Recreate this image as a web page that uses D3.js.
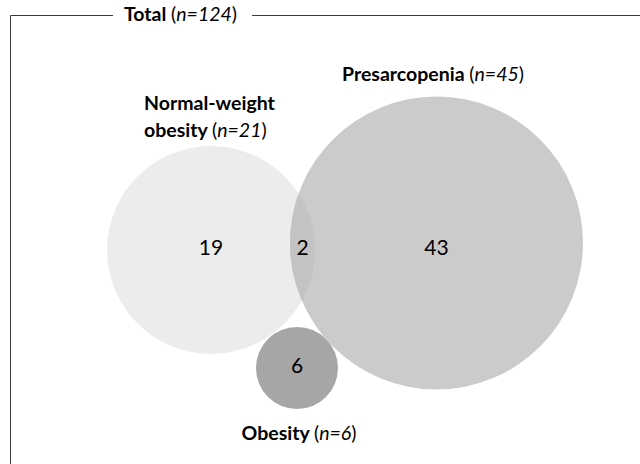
<!DOCTYPE html>
<html><head><meta charset="utf-8">
<script src="https://cdn.jsdelivr.net/npm/d3@7/dist/d3.min.js"></script>
<style>html,body{margin:0;padding:0;background:#fff}</style>
</head><body>
<svg id="chart" width="640" height="464"></svg>
<script>
// ---- data ----
const totalN = 124;
const setNames = ["Normal-weight obesity", "Presarcopenia", "Obesity"];
const setSizes = [21, 45, 6];
const regionLabels = ["Normal-weight obesity only", "Normal-weight obesity & Presarcopenia", "Presarcopenia only", "Obesity only"];
const regionCounts = [19, 2, 43, 6];
// layout of circles in abstract venn units
const circleCX = [2.11, 4.365, 2.97];
const circleCY = [2.50, 2.43, 3.68];
const circleR  = [1.04, 1.465, 0.41];
const fills = ["#ececec", "#cbcbcb", "#a6a6a6"];

const svg = d3.select("#chart");
const font = "Lato, 'Open Sans', sans-serif";
const fs = 19.5;
const x = d3.scaleLinear().domain([0, 6.4]).range([0, 640]);
const y = d3.scaleLinear().domain([0, 4.64]).range([0, 464]);
const rs = d3.scaleLinear().domain([0, 1]).range([0, 100]);

const circles = setNames.map((n, i) => ({name: n, n: setSizes[i], cx: x(circleCX[i]), cy: y(circleCY[i]), r: rs(circleR[i]), fill: fills[i]}));

// frame
const frameLeft = 10.5, frameTop = 15.5;
svg.append("path")
  .attr("d", `M${frameLeft},464 L${frameLeft},${frameTop} L113,${frameTop} M252,${frameTop} L640,${frameTop}`)
  .attr("fill", "none").attr("stroke", "#3a3a3a").attr("stroke-width", 1);

function label(g, xx, yy, bold, italic, anchor) {
  const t = g.append("text").attr("x", xx).attr("y", yy).attr("text-anchor", anchor || "middle")
    .attr("font-family", font).attr("font-size", fs).attr("fill", "#000");
  t.append("tspan").attr("font-weight", "bold").text(bold + " ");
  t.append("tspan").text("(");
  t.append("tspan").attr("font-style", "italic").text(italic);
  t.append("tspan").text(")");
  return t;
}
label(svg, 180.5, 20.5, "Total", "n=" + totalN);

// circles
const g = svg.append("g");
circles.forEach(c => {
  g.append("circle").attr("cx", c.cx).attr("cy", c.cy).attr("r", c.r).attr("fill", c.fill);
});
// overlap lens of first two sets
const defs = svg.append("defs");
defs.append("clipPath").attr("id", "clipA").append("circle")
  .attr("cx", circles[0].cx).attr("cy", circles[0].cy).attr("r", circles[0].r);
g.append("circle").attr("clip-path", "url(#clipA)")
  .attr("cx", circles[1].cx).attr("cy", circles[1].cy).attr("r", circles[1].r)
  .attr("fill", "#c3c3c3");

// region counts
const regionPos = [
  [circles[0].cx, circles[0].cy],
  [(circles[1].cx - circles[1].r + circles[0].cx + circles[0].r) / 2, circles[0].cy],
  [circles[1].cx, circles[0].cy],
  [circles[2].cx, circles[2].cy]
];
regionCounts.forEach((v, i) => {
  svg.append("text").attr("x", regionPos[i][0]).attr("y", regionPos[i][1] - 3.5)
    .attr("text-anchor", "middle").attr("dominant-baseline", "central")
    .attr("font-family", font).attr("font-size", 21).attr("fill", "#000").text(v);
});

// set labels
label(svg, 433, 81, "Presarcopenia", "n=" + setSizes[1]);
svg.append("text").attr("x", 144).attr("y", 110).attr("font-family", font)
  .attr("font-size", fs).attr("font-weight", "bold").text("Normal-weight");
const t2 = svg.append("text").attr("x", 144).attr("y", 137).attr("font-family", font).attr("font-size", fs);
t2.append("tspan").attr("font-weight", "bold").text("obesity ");
t2.append("tspan").text("(");
t2.append("tspan").attr("font-style", "italic").text("n=" + setSizes[0]);
t2.append("tspan").text(")");
label(svg, 299, 440, "Obesity", "n=" + setSizes[2]);
</script>
</body></html>
